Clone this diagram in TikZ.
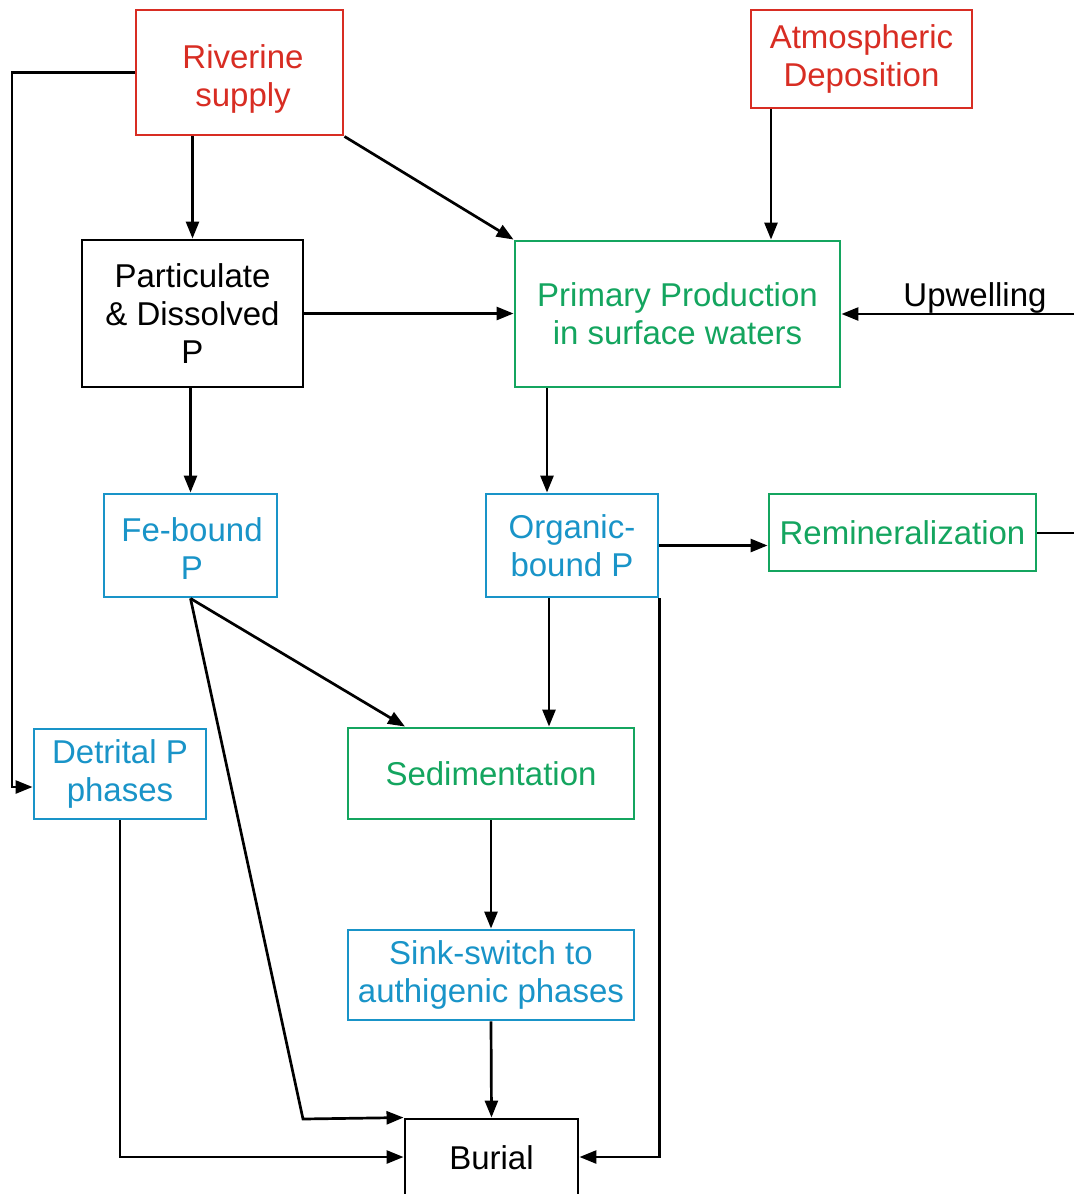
\documentclass[tikz,border=0pt]{standalone}
\usepackage{fontspec}
\setmainfont{Liberation Sans}
\usetikzlibrary{arrows.meta}
\definecolor{cred}{RGB}{216,45,35}
\definecolor{cgreen}{RGB}{20,165,95}
\definecolor{cblue}{RGB}{25,148,200}
\begin{document}
\begin{tikzpicture}[x=1pt,y=-1pt,
  box/.style={draw,line width=2.9pt,inner sep=0pt,align=center,
    font=\fontsize{33}{38}\selectfont},
  redbox/.style={box,draw=cred,text=cred},
  greenbox/.style={box,draw=cgreen,text=cgreen},
  bluebox/.style={box,draw=cblue,text=cblue},
  blackbox/.style={box,draw=black,text=black},
  conn/.style={line width=2.7pt,black},
  arr/.style={conn,-{Triangle[length=17pt,width=13pt]}}]
\useasboundingbox[fill=white] (0,0) rectangle (1074,1194);
% nodes
\node[redbox,minimum width=207pt,minimum height=125pt] (riv) at (239.5,72.5) {};
\node[text=cred,align=center,font=\fontsize{33}{38}\selectfont] (rivt) at (243,79) {Riverine\\supply};
\node[redbox,minimum width=221pt,minimum height=98pt] (atm) at (861.5,59) {Atmospheric\\Deposition};
\node[blackbox,minimum width=221pt,minimum height=147pt] (part) at (192.5,313.5) {Particulate\\\& Dissolved\\P};
\node[greenbox,minimum width=325pt,minimum height=146pt] (prim) at (677.5,314) {Primary Production\\in surface waters};
\node[bluebox,minimum width=173pt,minimum height=103pt] (fe) at (190.5,545.5) {};
\node[text=cblue,align=center,font=\fontsize{33}{38}\selectfont] (fet) at (192,549) {Fe-bound\\P};
\node[bluebox,minimum width=172pt,minimum height=103pt] (org) at (572,545.5) {Organic-\\bound P};
\node[greenbox,minimum width=267pt,minimum height=77pt] (rem) at (902.5,532.5) {Remineralization};
\node[bluebox,minimum width=172pt,minimum height=90pt] (det) at (120,774) {Detrital P\\phases};
\node[greenbox,minimum width=286pt,minimum height=91pt] (sed) at (491,773.5) {Sedimentation};
\node[bluebox,minimum width=286pt,minimum height=90pt] (sink) at (491,975) {Sink-switch to\\authigenic phases};
\node[blackbox,minimum width=173pt,minimum height=78pt] (bur) at (491.5,1158) {Burial};
\node[anchor=base,font=\fontsize{33}{38}\selectfont] (upl) at (975,306) {Upwelling};
% helper coordinates
\coordinate (xl) at (12,0);
\coordinate (yd) at (0,787);
\coordinate (xa) at (771,0);
\coordinate (xp) at (547,0);
\coordinate (xo) at (549,0);
\coordinate (xs) at (405,0);
\coordinate (upr) at (1074,314);
\coordinate (remr) at (1074,533);
\coordinate (febend) at (303,1119);
\coordinate (yb) at (0,1157);
% connectors
\draw[arr] (riv.west) -- (riv.west -| xl) -- (xl |- yd) -- (det.west |- yd);
\draw[arr] (part.north |- riv.south) -- (part.north);
\draw[arr] (riv.south east) -- (prim.north west);
\draw[arr] (atm.south -| xa) -- (prim.north -| xa);
\draw[arr] (part.east) -- (prim.west |- part.east);
\draw[arr] (upr) -- (prim.east |- upr);
\draw[arr] (fe.north |- part.south) -- (fe.north);
\draw[arr] (prim.south -| xp) -- (org.north -| xp);
\draw[arr] (org.east) -- (rem.west |- org.east);
\draw[conn] (rem.east |- remr) -- (remr);
\draw[arr] (fe.south) -- (sed.north -| xs);
\draw[arr] (fe.south) -- (febend) -- (bur.north west);
\draw[arr] (org.south -| xo) -- (sed.north -| xo);
\draw[arr] (org.south east) -- (org.south east |- yb) -- (bur.east |- yb);
\draw[arr] (det.south) -- (det.south |- yb) -- (bur.west |- yb);
\draw[arr] (sed.south) -- (sink.north);
\draw[arr] (sink.south) -- (bur.north);
\end{tikzpicture}
\end{document}
